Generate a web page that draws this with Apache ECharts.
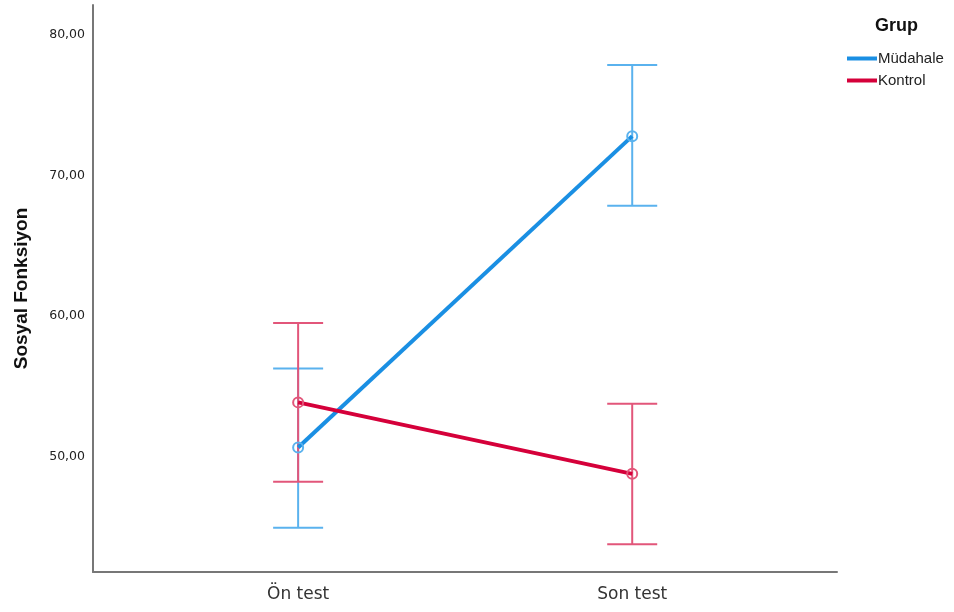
<!DOCTYPE html>
<html>
<head>
<meta charset="utf-8">
<script src="https://cdn.jsdelivr.net/npm/echarts@6/dist/echarts.min.js"></script>
<style>html,body{margin:0;padding:0;background:#fff}#c{width:954px;height:612px}</style>
</head>
<body>
<div id="c"></div>
<script>
const categories = ['Ön test', 'Son test'];
const groups = ['Müdahale', 'Kontrol'];
const mudahaleMean = [50.63, 72.80];
const mudahaleLow = [44.92, 67.85];
const mudahaleHigh = [56.26, 77.86];
const kontrolMean = [53.84, 48.75];
const kontrolLow = [48.18, 43.74];
const kontrolHigh = [59.50, 53.74];
const yTicks = [50, 60, 70, 80];

const lineColors = ['#1a8fe3', '#d5003a'];
const barColors = ['#5ab2ee', '#e2567a'];

function errSeries(name, low, high, color) {
  return {
    type: 'custom',
    name: name,
    data: categories.map((c, i) => [i, low[i], high[i]]),
    renderItem: function (params, api) {
      const x = api.value(0);
      const lo = api.coord([x, api.value(1)]);
      const hi = api.coord([x, api.value(2)]);
      const w = 25;
      const st = { stroke: color, lineWidth: 2, fill: null };
      return {
        type: 'group',
        children: [
          { type: 'line', shape: { x1: lo[0], y1: lo[1], x2: hi[0], y2: hi[1] }, style: st },
          { type: 'line', shape: { x1: lo[0] - w, y1: lo[1], x2: lo[0] + w, y2: lo[1] }, style: st },
          { type: 'line', shape: { x1: hi[0] - w, y1: hi[1], x2: hi[0] + w, y2: hi[1] }, style: st }
        ]
      };
    },
    z: 1,
    silent: true
  };
}

function meanSeries(name, vals, lc, mc) {
  return {
    type: 'line',
    name: name,
    data: categories.map((c, i) => [i, vals[i]]),
    symbol: 'circle',
    symbolSize: 10,
    showSymbol: true,
    lineStyle: { color: lc, width: 4 },
    itemStyle: { color: 'rgba(255,255,255,0)', borderColor: mc, borderWidth: 2 },
    z: 3
  };
}

const chart = echarts.init(document.getElementById('c'), null, { renderer: 'canvas' });
chart.setOption({
  animation: false,
  backgroundColor: '#ffffff',
  grid: { left: 93, right: 117, top: 5, bottom: 40, outerBoundsMode: 'none', containLabel: false },
  title: {
    text: 'Grup', left: 870, top: 12,
    textStyle: { fontFamily: 'Liberation Sans', fontSize: 18, fontWeight: 'bold', color: '#111' }
  },
  legend: {
    data: groups.map((g, i) => ({ name: g, icon: 'rect', itemStyle: { color: lineColors[i] } })),
    orient: 'vertical', left: 842, top: 46,
    itemWidth: 30, itemHeight: 4, itemGap: 7,
    textStyle: { fontFamily: 'Liberation Sans', fontSize: 15, color: '#222', padding: [0, 0, 0, -4] }
  },
  xAxis: {
    type: 'value', min: -0.614, max: 1.613,
    splitLine: { show: false },
    axisLine: { show: true, onZero: false, lineStyle: { color: '#777', width: 2 } },
    axisTick: { show: false },
    axisLabel: {
      customValues: [0, 1],
      formatter: v => categories[Math.round(v)],
      fontFamily: 'DejaVu Sans', fontSize: 17, color: '#333', margin: 14
    }
  },
  yAxis: {
    type: 'value', min: 41.76, max: 82.14,
    name: 'Sosyal Fonksiyon', nameLocation: 'middle', nameGap: 62, nameRotate: 90,
    nameTextStyle: { fontFamily: 'Liberation Sans', fontSize: 19, fontWeight: 'bold', color: '#111' },
    splitLine: { show: false },
    axisLine: { show: true, onZero: false, lineStyle: { color: '#777', width: 2 } },
    axisTick: { show: false },
    axisLabel: {
      customValues: yTicks,
      formatter: v => v.toFixed(2).replace('.', ','),
      fontFamily: 'DejaVu Sans', fontSize: 12.5, color: '#222', margin: 8
    }
  },
  series: [
    errSeries('Müdahale', mudahaleLow, mudahaleHigh, barColors[0]),
    errSeries('Kontrol', kontrolLow, kontrolHigh, barColors[1]),
    meanSeries('Müdahale', mudahaleMean, lineColors[0], barColors[0]),
    meanSeries('Kontrol', kontrolMean, lineColors[1], barColors[1])
  ]
});
</script>
</body>
</html>
